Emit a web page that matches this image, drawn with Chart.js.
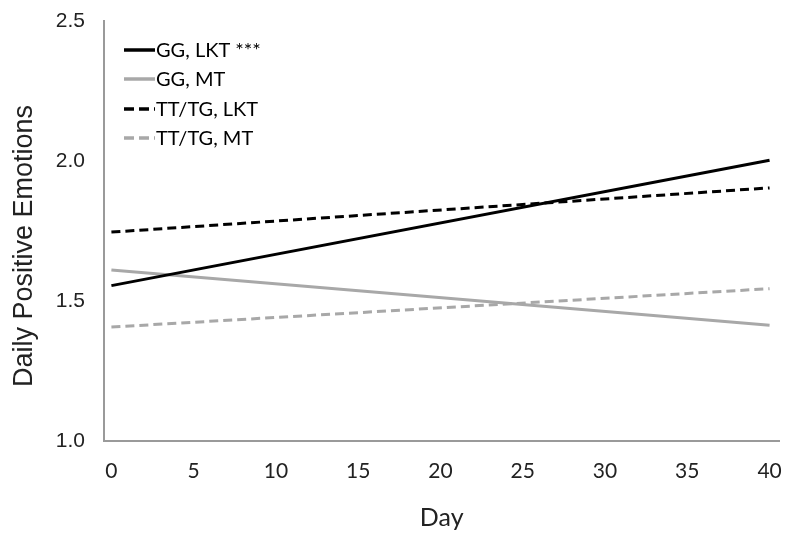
<!DOCTYPE html>
<html>
<head>
<meta charset="utf-8">
<script src="https://cdn.jsdelivr.net/npm/chart.js@4"></script>
<style>
  html, body { margin: 0; padding: 0; background: #fff; }
  #wrap { width: 800px; height: 543px; position: relative; }
</style>
</head>
<body>
<div id="wrap"><canvas id="emoChart" width="800" height="543"></canvas></div>
<script>
// values (day 0 and day 40 ends of each fitted line)
const days = [0, 40];
const ggLkt = [1.555, 2.003];
const ggMt = [1.611, 1.413];
const ttLkt = [1.746, 1.904];
const ttMt = [1.407, 1.544];
const xTicks = [0, 5, 10, 15, 20, 25, 30, 35, 40];
const yTicks = [1.0, 1.5, 2.0, 2.5];
const seriesNames = ['GG, LKT ***', 'GG, MT', 'TT/TG, LKT', 'TT/TG, MT'];

const BLACK = '#000000';
const GREY = '#a8a8a8';
const AXIS = '#9a9a9a';

const toPts = vals => days.map((d, i) => ({ x: d, y: vals[i] }));

function line(label, vals, color, dashed) {
    return {
        label: label,
        data: toPts(vals),
        borderColor: color,
        backgroundColor: color,
        borderWidth: 3,
        borderDash: dashed ? [9, 5] : [],
        pointRadius: 0,
        tension: 0,
        fill: false
    };
}

// legend drawn inside the plot, top-left, like the original
const insideLegend = {
    id: 'insideLegend',
    afterDraw(chart) {
        const ctx = chart.ctx;
        const x0 = 124, len = 31, rowY = [50, 79, 109, 138];
        ctx.save();
        ctx.font = '20px Lato, "Open Sans", sans-serif';
        ctx.textBaseline = 'middle';
        chart.data.datasets.forEach((ds, i) => {
            ctx.beginPath();
            ctx.strokeStyle = ds.borderColor;
            ctx.lineWidth = 3.5;
            ctx.setLineDash(ds.borderDash.length ? [10, 5] : []);
            ctx.moveTo(x0, rowY[i]);
            ctx.lineTo(x0 + len, rowY[i]);
            ctx.stroke();
            ctx.setLineDash([]);
            ctx.fillStyle = '#000';
            ctx.fillText(seriesNames[i], x0 + len + 1, rowY[i] + 1);
        });
        ctx.restore();
    }
};

new Chart(document.getElementById('emoChart'), {
    type: 'line',
    data: {
        datasets: [
            line(seriesNames[0], ggLkt, BLACK, false),
            line(seriesNames[1], ggMt, GREY, false),
            line(seriesNames[2], ttLkt, BLACK, true),
            line(seriesNames[3], ttMt, GREY, true)
        ]
    },
    options: {
        responsive: false,
        animation: false,
        layout: { padding: { top: 21, right: 17, left: 0, bottom: 0 } },
        plugins: { legend: { display: false }, tooltip: { enabled: false } },
        scales: {
            x: {
                type: 'linear',
                min: -0.45,
                max: 40.6,
                afterBuildTicks: s => { s.ticks = xTicks.map(v => ({ value: v })); },
                afterFit: s => { s.height = 102; },
                grid: { display: false, drawTicks: false },
                border: { display: true, color: AXIS, width: 2 },
                ticks: { color: '#222', padding: 18, font: { family: 'Lato, "Open Sans", sans-serif', size: 21 } },
                title: { display: true, text: 'Day', color: '#222', padding: { top: 0, bottom: 10 }, font: { family: 'Lato, "Open Sans", sans-serif', size: 25 } }
            },
            y: {
                min: 1.0,
                max: 2.5,
                afterBuildTicks: s => { s.ticks = yTicks.map(v => ({ value: v })); },
                afterFit: s => { s.width = 104; s.paddingTop = 0; s.paddingBottom = 0; },
                grid: { display: false, drawTicks: false },
                border: { display: true, color: AXIS, width: 2 },
                ticks: {
                    color: '#222',
                    padding: 19,
                    font: { family: '"Liberation Sans", Arial, sans-serif', size: 21 },
                    callback: v => v.toFixed(1)
                },
                title: { display: true, text: 'Daily Positive Emotions    ', color: '#222', padding: { top: 8, bottom: 0 }, font: { family: '"Liberation Sans", Arial, sans-serif', size: 27 } }
            }
        }
    },
    plugins: [insideLegend]
});
</script>
</body>
</html>
